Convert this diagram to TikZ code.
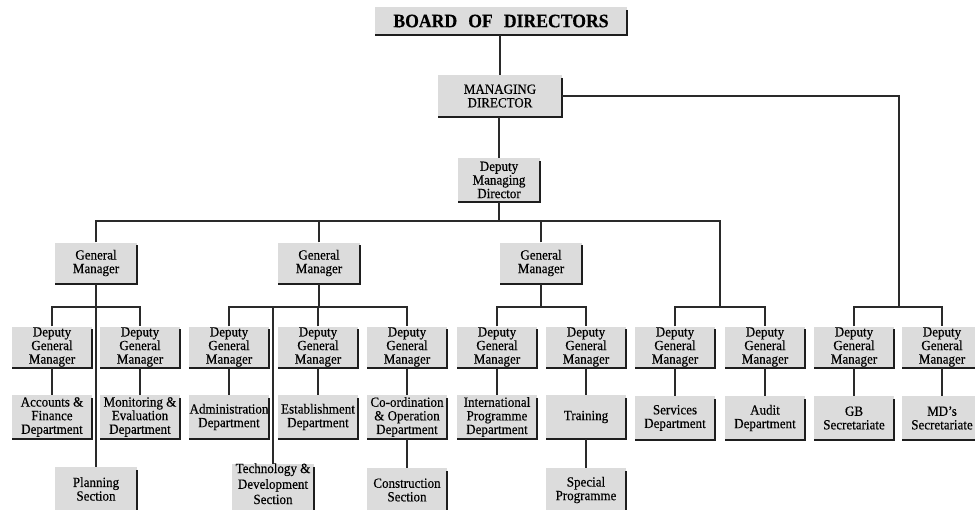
\documentclass[tikz,border=0pt]{standalone}
\usepackage{fontspec}
\setmainfont{Liberation Serif}[FakeStretch=0.93,FakeBold=0.4]
\definecolor{boxgray}{HTML}{DCDCDC}
\definecolor{inkc}{HTML}{2A2A2A}
\definecolor{rimc}{HTML}{1E1E1E}
\newcommand\orgfont{\fontsize{14}{13.6}\selectfont}
\tikzset{
  orgbox/.style={fill=boxgray, inner sep=0pt, align=center,
    minimum width=80pt, minimum height=42pt, font=\orgfont},
  link/.style={draw=inkc, line width=1.2pt},
  rim/.style={draw=rimc, line width=1.7pt},
}
\begin{document}
\begin{tikzpicture}[x=1pt,y=-1pt]
\useasboundingbox (0,0) rectangle (975,509);
\clip (0,0) rectangle (975,509);
\fill[white] (0,0) rectangle (975,509);

% top of the chart
\node[orgbox, minimum width=252pt, minimum height=28pt,
  font=\fontsize{19}{21}\selectfont\bfseries] (board) at (501,21)
  {BOARD\hspace{0.35em} OF\hspace{0.35em} DIRECTORS};
\node[orgbox, minimum width=124pt] (md) at (500,96) {MANAGING\\DIRECTOR};
\node[orgbox, minimum width=82pt, minimum height=44pt] (dmd) at (499,180) {Deputy\\Managing\\Director};

% general managers
\node[orgbox, minimum width=82pt, minimum height=41pt] (gm1) at (96,263) {General\\Manager};
\node[orgbox, minimum width=82pt, minimum height=41pt] (gm2) at (319,263) {General\\Manager};
\node[orgbox, minimum width=82pt, minimum height=41pt] (gm3) at (541,263) {General\\Manager};

% deputy general managers
\foreach \i/\x in {1/52,2/140,3/229,4/318,5/407,6/497,7/586,8/675,9/765,10/854,11/942}
  \node[orgbox, minimum height=41pt] (d\i) at (\x,347) {Deputy\\General\\Manager};

% departments
\node[orgbox, minimum height=44pt] (a1) at (52,417) {Accounts \&\\Finance\\Department};
\node[orgbox, minimum height=44pt] (a2) at (140,417) {Monitoring \&\\Evaluation\\Department};
\node[orgbox, minimum height=44pt] (a3) at (229,417) {Administration\\Department};
\node[orgbox, minimum height=44pt] (a4) at (318,417) {Establishment\\Department};
\node[orgbox, minimum height=44pt] (a5) at (407,417) {Co-ordination\\\& Operation\\Department};
\node[orgbox, minimum height=44pt] (a6) at (497,417) {International\\Programme\\Department};
\node[orgbox, minimum height=44pt] (a7) at (586,417) {Training};
\node[orgbox, minimum height=44pt] (a8) at (675,418) {Services\\Department};
\node[orgbox, minimum height=44pt] (a9) at (765,418) {Audit\\Department};
\node[orgbox, minimum height=44pt] (a10) at (854,418) {GB\\Secretariate};
\node[orgbox, minimum height=44pt] (a11) at (942,418) {MD's\\Secretariate};

% sections
\node[orgbox, minimum width=82pt, minimum height=44pt] (p1) at (96,489) {Planning\\Section};
\node[orgbox, minimum width=82pt, minimum height=50pt,
  font=\fontsize{14}{12.4}\selectfont] (p2) at (273,489)
  {\raisebox{-15pt}[20pt][20pt]{\shortstack{Technology \&\\Development\\Section}}};
\node[orgbox, minimum height=44pt] (p3) at (407,490) {Construction\\Section};
\node[orgbox, minimum height=44pt] (p4) at (586,490) {Special\\Programme};

% shaded rims on the right and bottom of every box
\foreach \n in {board,md,dmd,gm1,gm2,gm3,d1,d2,d3,d4,d5,d6,d7,d8,d9,d10,d11,
                a1,a2,a3,a4,a5,a6,a7,a8,a9,a10,a11,p1,p2,p3,p4}
  \draw[rim] ([yshift=-3pt]\n.north east) -- (\n.south east) -- (\n.south west);

% connectors
\coordinate (tbL) at (96,221);
\coordinate (tbR) at (720,221);
\coordinate (sbar) at (899,307);
\draw[link] (md.north) -- (md.north |- board.south);
\draw[link] (md.east) -| (sbar);
\draw[link] (dmd.north |- md.south) -- (dmd.north);
\draw[link] (dmd.south) -- (dmd.south |- tbL);
\draw[link] (gm1.north) -- (tbL) -- (tbR) -- (tbR |- sbar);
\draw[link] (gm2.north) -- (gm2.north |- tbL);
\draw[link] (gm3.north) -- (gm3.north |- tbL);

\draw[link] (gm1.south) -- (p1.north);
\draw[link] (gm2.south) -- (gm2.south |- sbar);
\draw[link] (gm3.south) -- (gm3.south |- sbar);
\draw[link] (p2.north) -- (p2.north |- sbar);

\foreach \l/\r in {d1/d2,d3/d5,d6/d7,d8/d9,d10/d11}
  \draw[link] (\l.north) -- (\l.north |- sbar) -- (\r.north |- sbar) -- (\r.north);
\draw[link] (d4.north) -- (d4.north |- sbar);

\foreach \i in {1,...,11}
  \draw[link] (d\i.south) -- (a\i.north);
\draw[link] (a5.south) -- (p3.north);
\draw[link] (a7.south) -- (p4.north);
\end{tikzpicture}
\end{document}
